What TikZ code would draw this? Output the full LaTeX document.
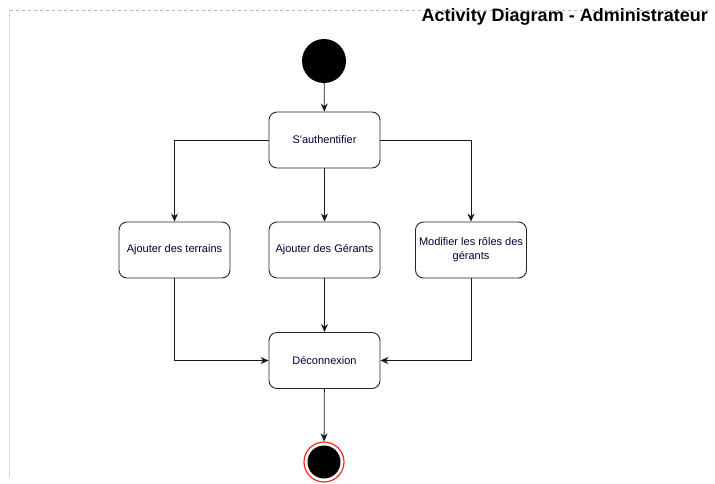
\documentclass[tikz,border=0pt]{standalone}
\usepackage{fontspec}
\setmainfont{Liberation Sans}
\usetikzlibrary{arrows.meta}
\begin{document}
\begin{tikzpicture}[x=1pt,y=-1pt,
  act/.style={draw=black!85, line width=0.9pt, rounded corners=8pt, minimum width=111pt, minimum height=56pt, align=center, font=\fontsize{11}{14}\selectfont, text=black!80!blue, inner sep=2pt},
  flow/.style={draw=black!90, line width=0.8pt, -{Stealth[length=8pt,width=7pt]}}]
\useasboundingbox (0,0) rectangle (715,483);
\fill[white] (0,0) rectangle (715,483);
\draw[black!15, line width=1.2pt] (9.5,10) -- (9.5,478);
\draw[black!30, dashed, line width=0.6pt, dash pattern=on 3pt off 3pt] (10,10) -- (712,10);
\node[anchor=east, font=\fontsize{18}{20}\selectfont\bfseries, inner sep=0pt] (title) at (708,17) {Activity Diagram - Administrateur};
\node[circle, fill=black, minimum size=44pt, inner sep=0pt] (start) at (324,61) {};
\node[act] (auth) at (324.5,140) {S\textquotesingle authentifier};
\node[act] (terr) at (174.5,250) {Ajouter des terrains};
\node[act] (ger) at (324.5,250) {Ajouter des Gérants};
\node[act] (mod) at (471,250) {Modifier les rôles des\\gérants};
\node[act] (dec) at (324.5,360.5) {Déconnexion};
\node[circle, draw=red!85, line width=1.2pt, minimum size=40pt, inner sep=0pt] (end) at (324,462) {};
\node[circle, fill=black, minimum size=33pt, inner sep=0pt] at (end) {};
\draw[flow] (start) -- (auth);
\draw[flow] (auth.west) -| (terr.north);
\draw[flow] (auth) -- (ger);
\draw[flow] (auth.east) -| (mod.north);
\draw[flow] (ger) -- (dec);
\draw[flow] (terr.south) |- (dec.west);
\draw[flow] (mod.south) |- (dec.east);
\draw[flow] (dec) -- (end);
\end{tikzpicture}
\end{document}
